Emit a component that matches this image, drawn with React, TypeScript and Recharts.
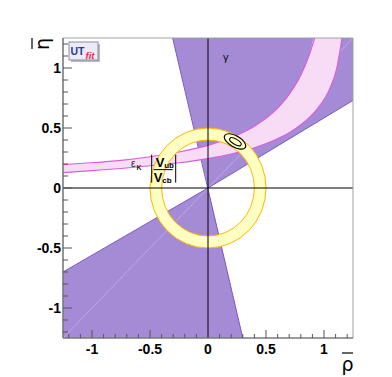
import React from 'react';
import {
  ComposedChart,
  Area,
  Line,
  XAxis,
  YAxis,
  ReferenceLine,
  ReferenceArea,
  ReferenceDot,
} from 'recharts';

// ---------- axes ----------
const rhoDomain: [number, number] = [-1.25, 1.25];
const etaDomain: [number, number] = [-1.25, 1.25];
const axisTicks = [
  -1.2, -1.1, -1.0, -0.9, -0.8, -0.7, -0.6, -0.5, -0.4, -0.3, -0.2, -0.1, 0,
  0.1, 0.2, 0.3, 0.4, 0.5, 0.6, 0.7, 0.8, 0.9, 1.0, 1.1, 1.2,
];
const majorTicks = [-1, -0.5, 0, 0.5, 1];
const majorLabels = ['-1', '-0.5', '0', '0.5', '1'];

// ---------- gamma constraint (two wedges through the origin) ----------
const gammaUpRho = [-0.305, 0, 1.25];
const gammaUpLow = [1.25, 0, 0.73];
const gammaUpHigh = [1.25, 1.25, 1.25];
const gammaDnRho = [-1.25, 0, 0.3];
const gammaDnLow = [-1.25, -1.25, -1.25];
const gammaDnHigh = [-0.7, 0, -1.25];
const gammaEdge1Rho = [-0.305, 0.3];
const gammaEdge1Eta = [1.25, -1.25];
const gammaEdge2Rho = [-1.25, 0, 1.25];
const gammaEdge2Eta = [-0.7, 0, 0.73];
const gammaSeamRho = [-1.25, 1.25];
const gammaSeamEta = [-1.25, 1.25];

// ---------- epsilon_K band ----------
const epsRho = [-1.25, -1.0, -0.75, -0.5, -0.25, 0, 0.2, 0.4, 0.55, 0.7, 0.8, 0.87, 0.92, 0.95, 1.05, 1.11, 1.155];
const epsLow = [0.128, 0.145, 0.163, 0.185, 0.21, 0.245, 0.283, 0.335, 0.39, 0.46, 0.527, 0.585, 0.635, 0.67, 0.83, 1.0, 1.25];
const epsHigh = [0.195, 0.21, 0.23, 0.26, 0.3, 0.355, 0.42, 0.515, 0.62, 0.78, 0.94, 1.1, 1.25, 1.25, 1.25, 1.25, 1.25];
const epsUpperEdgeCount = 13; // upper edge leaves the frame at rho = 0.92

// ---------- |Vub/Vcb| ring ----------
const ringCenter = [0, 0];
const ringOuter = 0.5;
const ringInner = 0.4;

// ---------- fit contours (centre rho, centre eta, half-axis rho, half-axis eta, tilt deg) ----------
const contourRho = [0.233, 0.236];
const contourEta = [0.388, 0.386];
const contourA = [0.103, 0.056];
const contourB = [0.047, 0.022];
const contourTilt = [30, 30];

// ---------- text labels positions (data coords) ----------
const gammaLabel = { rho: 0.153, eta: 1.094, text: 'γ' };
const epsLabel = { rho: -0.63, eta: 0.19 };
const vubLabel = { rho: -0.382, eta: 0.153 };

// ---------- derived tables ----------
const gammaUp = gammaUpRho.map((r, i) => ({ rho: r, band: [gammaUpLow[i], gammaUpHigh[i]] }));
const gammaDn = gammaDnRho.map((r, i) => ({ rho: r, band: [gammaDnLow[i], gammaDnHigh[i]] }));
const gammaEdge1 = gammaEdge1Rho.map((r, i) => ({ rho: r, eta: gammaEdge1Eta[i] }));
const gammaEdge2 = gammaEdge2Rho.map((r, i) => ({ rho: r, eta: gammaEdge2Eta[i] }));
const gammaSeam = gammaSeamRho.map((r, i) => ({ rho: r, eta: gammaSeamEta[i] }));
const epsBand = epsRho.map((r, i) => ({ rho: r, band: [epsLow[i], epsHigh[i]] }));
const epsLowEdge = epsRho.map((r, i) => ({ rho: r, eta: epsLow[i] }));
const epsHighEdge = epsRho.slice(0, epsUpperEdgeCount).map((r, i) => ({ rho: r, eta: epsHigh[i] }));

const PURPLE = '#a58ad6';
const PURPLE_EDGE = '#7a5cbf';
const PINK = '#f8dcf6';
const PINK_EDGE = '#dc5cdc';
const YELLOW = '#ffffc2';
const ORANGE = '#ffb400';

const FONT = '"Liberation Sans", Arial, Helvetica, sans-serif';

const findMajor = (v: number) => majorTicks.findIndex((m) => Math.abs(m - v) < 1e-6);

const XTick = (props: any) => {
  const { x, y, payload } = props;
  const idx = findMajor(payload.value);
  const major = idx >= 0;
  return (
    <g>
      <line x1={x} x2={x} y1={y} y2={y - (major ? 8 : 4)} stroke="#555" strokeWidth={1} />
      {major && (
        <text x={x} y={y + 15.5} textAnchor="middle" fontFamily={FONT} fontWeight="bold" fontSize={14} fill="#000">
          {majorLabels[idx]}
        </text>
      )}
    </g>
  );
};

const YTick = (props: any) => {
  const { x, y, payload } = props;
  const idx = findMajor(payload.value);
  const major = idx >= 0;
  return (
    <g>
      <line x1={x} x2={x + (major ? 9 : 5)} y1={y} y2={y} stroke="#555" strokeWidth={1} />
      {major && (
        <text x={x - 2} y={y + 5} textAnchor="end" fontFamily={FONT} fontWeight="bold" fontSize={14} fill="#000">
          {majorLabels[idx]}
        </text>
      )}
    </g>
  );
};

const ellipsePath = (cx: number, cy: number, rx: number, ry: number) =>
  `M ${cx - rx} ${cy} A ${rx} ${ry} 0 1 0 ${cx + rx} ${cy} A ${rx} ${ry} 0 1 0 ${cx - rx} ${cy} Z`;

const RingShape = (props: any) => {
  const { x, y, width, height } = props;
  const cx = x + width / 2;
  const cy = y + height / 2;
  const rxo = width / 2;
  const ryo = height / 2;
  const k = ringInner / ringOuter;
  const rxi = rxo * k;
  const ryi = ryo * k;
  return (
    <g>
      <path d={ellipsePath(cx, cy, rxo, ryo) + ' ' + ellipsePath(cx, cy, rxi, ryi)} fill={YELLOW} fillRule="evenodd" stroke="none" />
      <ellipse cx={cx} cy={cy} rx={rxo} ry={ryo} fill="none" stroke={ORANGE} strokeWidth={1} />
      <ellipse cx={cx} cy={cy} rx={rxi} ry={ryi} fill="none" stroke={ORANGE} strokeWidth={1} />
    </g>
  );
};

const makeContourShape = (tilt: number) => (props: any) => {
  const { x, y, width, height } = props;
  const cx = x + width / 2;
  const cy = y + height / 2;
  return (
    <ellipse
      cx={cx}
      cy={cy}
      rx={width / 2}
      ry={height / 2}
      transform={`rotate(${tilt} ${cx} ${cy})`}
      fill="none"
      stroke="#000"
      strokeWidth={1.1}
    />
  );
};

const GammaText = (props: any) => (
  <text x={props.cx} y={props.cy + 4} textAnchor="middle" fontFamily={FONT} fontSize={11} fill="#111">
    {gammaLabel.text}
  </text>
);

const EpsText = (props: any) => (
  <g fontFamily={FONT} fill="#222">
    <text x={props.cx - 4} y={props.cy + 2} fontSize={10} textAnchor="start">ε</text>
    <text x={props.cx + 1.5} y={props.cy + 5} fontSize={7} fontWeight="bold" textAnchor="start">K</text>
  </g>
);

const VubText = (props: any) => {
  const { cx, cy } = props;
  return (
    <g fontFamily={FONT} fill="#000" fontWeight="bold">
      <line x1={cx - 12} x2={cx - 12} y1={cy - 15} y2={cy + 13} stroke="#000" strokeWidth={1} />
      <line x1={cx + 12} x2={cx + 12} y1={cy - 15} y2={cy + 13} stroke="#000" strokeWidth={1} />
      <line x1={cx - 10} x2={cx + 9} y1={cy} y2={cy} stroke="#000" strokeWidth={1} />
      <text x={cx - 8} y={cy - 3} fontSize={13}>V</text>
      <text x={cx + 0.5} y={cy - 2} fontSize={8}>ub</text>
      <text x={cx - 10} y={cy + 12} fontSize={13}>V</text>
      <text x={cx - 1.5} y={cy + 13} fontSize={8}>cb</text>
    </g>
  );
};

const noDot = false as const;

export default function App() {
  return (
    <div style={{ position: 'absolute', left: 0, top: 0, width: 392, height: 377, background: '#fff' }}>
      <ComposedChart
        width={392}
        height={377}
        margin={{ top: 38, right: 39, bottom: 9, left: 18 }}
      >
        <XAxis
          dataKey="rho"
          type="number"
          domain={rhoDomain}
          allowDataOverflow
          ticks={axisTicks}
          interval={0}
          tickSize={0}
          tickMargin={0}
          tickLine={false}
          height={30}
          tick={<XTick />}
          axisLine={{ stroke: '#7a7a7a', strokeWidth: 1.6 }}
        />
        <YAxis
          type="number"
          domain={etaDomain}
          allowDataOverflow
          ticks={axisTicks}
          interval={0}
          tickSize={0}
          tickMargin={0}
          tickLine={false}
          width={45}
          tick={<YTick />}
          axisLine={{ stroke: '#7a7a7a', strokeWidth: 1.6 }}
        />

        {/* gamma wedges */}
        <Area data={gammaUp} dataKey="band" type="linear" fill={PURPLE} fillOpacity={1} stroke="none" isAnimationActive={false} zIndex={10} />
        <Area data={gammaDn} dataKey="band" type="linear" fill={PURPLE} fillOpacity={1} stroke="none" isAnimationActive={false} zIndex={10} />
        <Line data={gammaSeam} dataKey="eta" type="linear" stroke="#c2b0ea" strokeWidth={0.8} dot={noDot} activeDot={false} isAnimationActive={false} zIndex={11} />
        <Line data={gammaEdge1} dataKey="eta" type="linear" stroke={PURPLE_EDGE} strokeWidth={1} dot={noDot} activeDot={false} isAnimationActive={false} zIndex={12} />
        <Line data={gammaEdge2} dataKey="eta" type="linear" stroke={PURPLE_EDGE} strokeWidth={1} dot={noDot} activeDot={false} isAnimationActive={false} zIndex={12} />

        {/* epsilon_K band */}
        <Area data={epsBand} dataKey="band" type="monotone" fill={PINK} fillOpacity={1} stroke="none" isAnimationActive={false} zIndex={13} />
        <Line data={epsLowEdge} dataKey="eta" type="monotone" stroke={PINK_EDGE} strokeWidth={1.1} dot={noDot} activeDot={false} isAnimationActive={false} zIndex={14} />
        <Line data={epsHighEdge} dataKey="eta" type="monotone" stroke={PINK_EDGE} strokeWidth={1.1} dot={noDot} activeDot={false} isAnimationActive={false} zIndex={14} />

        {/* |Vub/Vcb| ring */}
        <ReferenceArea
          x1={ringCenter[0] - ringOuter}
          x2={ringCenter[0] + ringOuter}
          y1={ringCenter[1] - ringOuter}
          y2={ringCenter[1] + ringOuter}
          shape={(p: any) => <RingShape {...p} />}
          zIndex={15}
        />

        {/* fit contours */}
        {contourRho.map((r, i) => (
          <ReferenceArea
            key={`c${i}`}
            x1={r - contourA[i]}
            x2={r + contourA[i]}
            y1={contourEta[i] - contourB[i]}
            y2={contourEta[i] + contourB[i]}
            shape={makeContourShape(contourTilt[i])}
            zIndex={16}
          />
        ))}

        {/* zero lines and frame */}
        <ReferenceLine x={0} stroke="#000" strokeWidth={1} zIndex={17} />
        <ReferenceLine y={0} stroke="#000" strokeWidth={1} zIndex={17} />
        <ReferenceLine x={1.25} stroke="#a0a0a0" strokeWidth={1} zIndex={17} />
        <ReferenceLine y={1.25} stroke="#a0a0a0" strokeWidth={1} zIndex={17} />

        {/* labels */}
        <ReferenceDot x={gammaLabel.rho} y={gammaLabel.eta} r={0} shape={(p: any) => <GammaText {...p} />} zIndex={18} />
        <ReferenceDot x={epsLabel.rho} y={epsLabel.eta} r={0} shape={(p: any) => <EpsText {...p} />} zIndex={18} />
        <ReferenceDot x={vubLabel.rho} y={vubLabel.eta} r={0} shape={(p: any) => <VubText {...p} />} zIndex={18} />
      </ComposedChart>

      {/* axis titles and logo */}
      <svg width={392} height={377} style={{ position: 'absolute', left: 0, top: 0, pointerEvents: 'none' }}>
        <g>
          <line x1={32} x2={32} y1={38} y2={49} stroke="#000" strokeWidth={1.2} />
          <text
            x={0}
            y={0}
            transform="translate(49 44) rotate(-90)"
            textAnchor="middle"
            fontFamily="'DejaVu Sans', sans-serif"
            fontSize={19}
            fill="#000"
          >
            η
          </text>
        </g>
        <g>
          <line x1={342} x2={353} y1={353} y2={353} stroke="#000" strokeWidth={1.2} />
          <text x={347.5} y={371} textAnchor="middle" fontFamily="'DejaVu Sans', sans-serif" fontSize={19} fill="#000">
            ρ
          </text>
        </g>
        <g>
          <rect x={71} y={44} width={29} height={18} fill="#b8b8c4" />
          <rect x={69} y={42} width={29} height={18} fill="#eceaf4" stroke="#8c8ca0" strokeWidth={1} />
          <text x={70.5} y={55} fontFamily={FONT} fontWeight="bold" fontSize={10.5} fill="#2a3a9a">UT</text>
          <text x={85.5} y={58.5} fontFamily={FONT} fontWeight="bold" fontStyle="italic" fontSize={9.5} fill="#e0304a">fit</text>
        </g>
      </svg>
    </div>
  );
}
